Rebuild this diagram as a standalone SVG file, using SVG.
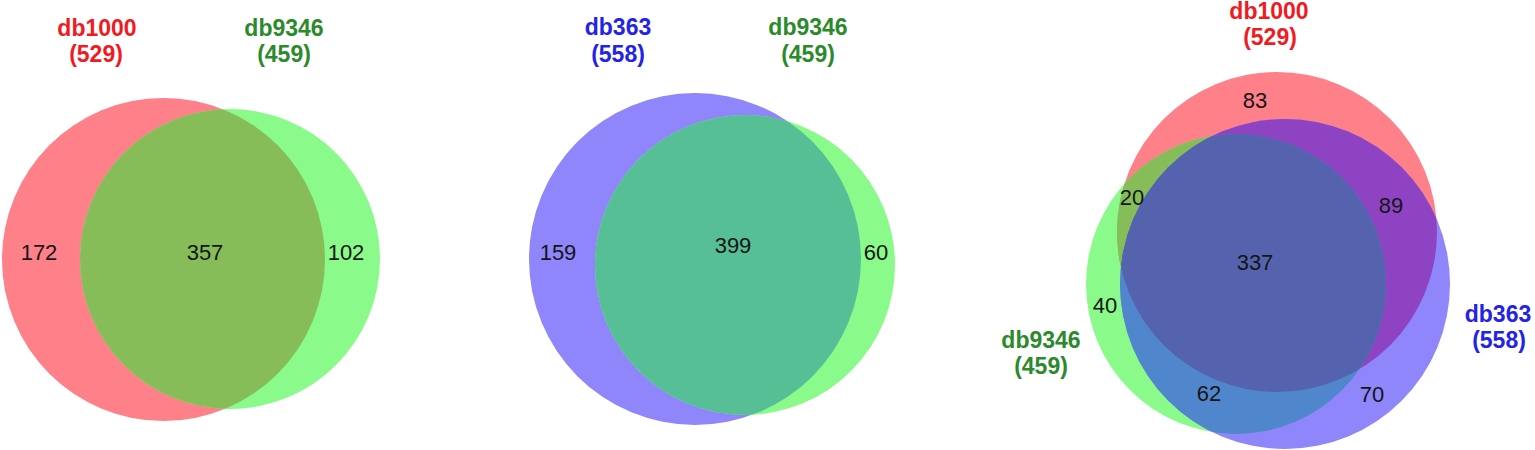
<svg xmlns="http://www.w3.org/2000/svg" width="1535" height="450" viewBox="0 0 1535 450">
<style>
.lbl{font-family:"Liberation Sans",Arial,sans-serif;font-weight:bold;font-size:23px;text-anchor:middle}
.num{font-family:"Liberation Sans",Arial,sans-serif;font-size:22px;fill:#151515;text-anchor:middle}
.red{fill:#f01a1f}
.grn{fill:#2b8a2b}
.blu{fill:#2323e6}
</style>
<defs>
<clipPath id="c1r"><circle cx="163.5" cy="259.5" r="161.5"/></clipPath>
<clipPath id="c2b"><circle cx="695" cy="259" r="166"/></clipPath>
<clipPath id="c3r"><circle cx="1277" cy="232" r="160"/></clipPath>
<clipPath id="c3g"><circle cx="1236" cy="284" r="150"/></clipPath>
</defs>
<rect width="1535" height="450" fill="#ffffff"/>

<g id="venn1">
  <g id="v1-db1000">
    <circle cx="163.5" cy="259.5" r="161.5" fill="#fe8088"/>
    <text class="lbl red" x="97" y="36">db1000</text>
    <text class="lbl red" x="96" y="62">(529)</text>
  </g>
  <g id="v1-db9346">
    <circle cx="230" cy="259" r="150" fill="#8afa8a"/>
    <circle cx="230" cy="259" r="150" fill="#86bd58" clip-path="url(#c1r)"/>
    <text class="lbl grn" x="284" y="36">db9346</text>
    <text class="lbl grn" x="284" y="62">(459)</text>
  </g>
  <g id="v1-counts">
    <text class="num" x="39" y="260">172</text>
    <text class="num" x="205" y="260">357</text>
    <text class="num" x="346" y="260">102</text>
  </g>
</g>

<g id="venn2">
  <g id="v2-db363">
    <circle cx="695" cy="259" r="166" fill="#8e86fa"/>
    <text class="lbl blu" x="618" y="35">db363</text>
    <text class="lbl blu" x="618" y="62">(558)</text>
  </g>
  <g id="v2-db9346">
    <circle cx="745" cy="265" r="150" fill="#8afa8a"/>
    <circle cx="745" cy="265" r="150" fill="#56bf96" clip-path="url(#c2b)"/>
    <text class="lbl grn" x="808" y="35">db9346</text>
    <text class="lbl grn" x="808" y="62">(459)</text>
  </g>
  <g id="v2-counts">
    <text class="num" x="558" y="260">159</text>
    <text class="num" x="733" y="253">399</text>
    <text class="num" x="876" y="260">60</text>
  </g>
</g>

<g id="venn3">
  <g id="v3-db1000">
    <circle cx="1277" cy="232" r="160" fill="#fe8088"/>
    <text class="lbl red" x="1269" y="19">db1000</text>
    <text class="lbl red" x="1270" y="45">(529)</text>
  </g>
  <g id="v3-db9346">
    <circle cx="1236" cy="284" r="150" fill="#8afa8a"/>
    <circle cx="1236" cy="284" r="150" fill="#86bd58" clip-path="url(#c3r)"/>
    <text class="lbl grn" x="1041" y="348">db9346</text>
    <text class="lbl grn" x="1041" y="374">(459)</text>
  </g>
  <g id="v3-db363">
    <circle cx="1285" cy="284" r="165" fill="#8e86fa"/>
    <circle cx="1236" cy="284" r="150" fill="#86bd58" clip-path="url(#c3r)"/>
    <circle cx="1285" cy="284" r="165" fill="#8e44c2" clip-path="url(#c3r)"/>
    <circle cx="1285" cy="284" r="165" fill="#5086cb" clip-path="url(#c3g)"/>
    <g clip-path="url(#c3r)">
      <circle cx="1285" cy="284" r="165" fill="#5563ae" clip-path="url(#c3g)"/>
    </g>
    <text class="lbl blu" x="1498" y="322">db363</text>
    <text class="lbl blu" x="1499" y="348">(558)</text>
  </g>
  <g id="v3-counts">
    <text class="num" x="1255" y="108">83</text>
    <text class="num" x="1132" y="205">20</text>
    <text class="num" x="1391" y="213">89</text>
    <text class="num" x="1255" y="270">337</text>
    <text class="num" x="1105" y="313">40</text>
    <text class="num" x="1209" y="401">62</text>
    <text class="num" x="1372" y="402">70</text>
  </g>
</g>

<g id="connectors"/>
</svg>
